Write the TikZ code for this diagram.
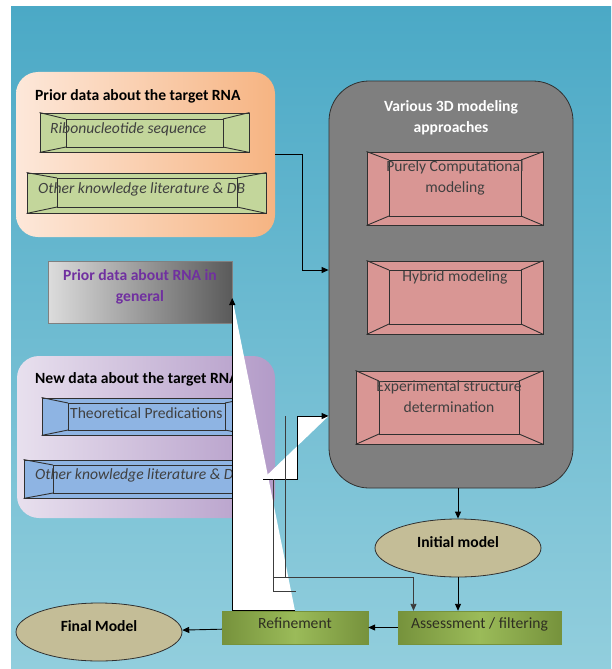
\documentclass[tikz,border=0pt]{standalone}
\usepackage{fontspec}
\setmainfont{Carlito}
\usepackage{tikz}
\usetikzlibrary{arrows.meta,shapes.geometric,positioning}
\definecolor{bgtop}{HTML}{4BA9C6}
\definecolor{bgbot}{HTML}{92CEDD}
\definecolor{peachL}{HTML}{FDE8DA}
\definecolor{peachR}{HTML}{F6B482}
\definecolor{lavL}{HTML}{E8E0EE}
\definecolor{lavR}{HTML}{B39BC8}
\definecolor{greyL}{HTML}{DCDCDC}
\definecolor{greyR}{HTML}{5A5A5A}
\definecolor{bevg}{HTML}{C3D69B}
\definecolor{bevb}{HTML}{8EB4E3}
\definecolor{pinkf}{HTML}{D99694}
\definecolor{edge}{HTML}{303030}
\definecolor{tanf}{HTML}{C4BD97}
\definecolor{stagedark}{HTML}{76923C}
\definecolor{stagelight}{HTML}{9BBB59}
\definecolor{stagetext}{HTML}{2F2F22}
\definecolor{boxtext}{HTML}{404040}
\definecolor{genpurple}{HTML}{7030A0}
\definecolor{appgray}{HTML}{7F7F7F}
\definecolor{wiregray}{HTML}{3C3C3C}

\begin{document}
\begin{tikzpicture}[
  x=1pt,
  y=-1pt,
  every node/.style={font=\fontsize{15.6}{21}\selectfont, inner sep=0pt},
  panel/.style={rectangle, rounded corners=22pt},
  bev/.style={rectangle, draw=edge, line width=0.9pt},
  bevgreen/.style={bev, fill=bevg},
  bevblue/.style={bev, fill=bevb},
  bevpink/.style={bev, fill=pinkf},
  bevline/.style={draw=edge, line width=0.9pt},
  model/.style={ellipse, draw=edge, line width=0.8pt, fill=tanf, text depth=12pt, font=\fontsize{15.6}{21}\selectfont\bfseries},
  stage/.style={rectangle, draw=stagedark, line width=0.4pt, left color=stagedark, right color=stagedark, middle color=stagelight, text=stagetext, text depth=9pt},
  flow/.style={-{Triangle[length=7pt,width=6pt]}, line width=0.9pt},
  wire/.style={draw=wiregray, line width=0.9pt},
  title/.style={anchor=west, font=\fontsize{15.6}{21}\selectfont\bfseries},
  itext/.style={anchor=west, text=boxtext, font=\fontsize{15.6}{21}\selectfont\itshape},
  ctext/.style={align=center, text=boxtext}
]
\path[use as bounding box, fill=white] (0,0) rectangle (611,669);
\fill[top color=bgtop, bottom color=bgbot] (11,7) rectangle (611,669);

% prior data about the target
\node[panel, left color=peachL, right color=peachR, minimum width=259pt, minimum height=165pt] (priorbox) at (145.5,154.5) {};
\node[title] (priortitle) at (35,96) {Prior data about the target RNA};
\node[bevgreen, minimum width=209pt, minimum height=39pt] (seq) at (144.5,132.5) {};
\draw[bevline] (66,119) rectangle (223,147);
\draw[bevline] (seq.north west) -- (66,119) (seq.north east) -- (223,119) (seq.south west) -- (66,147) (seq.south east) -- (223,147);
\node[itext] (seqtxt) at (50,129) {Ribonucleotide sequence};
\node[bevgreen, minimum width=239pt, minimum height=40pt] (litA) at (146.5,193) {};
\draw[bevline] (57,178) rectangle (237,207);
\draw[bevline] (litA.north west) -- (57,178) (litA.north east) -- (237,178) (litA.south west) -- (57,207) (litA.south east) -- (237,207);
\node[itext] (litAtxt) at (38,189) {Other knowledge literature \& DB};

% prior data in general
\node[rectangle, draw=gray, line width=0.5pt, left color=greyL, right color=greyR, minimum width=184pt, minimum height=62pt] (general) at (140,292) {};
\node[align=center, text=genpurple, font=\fontsize{15.6}{21}\selectfont\bfseries] (generaltxt) at (140,287) {Prior data about RNA in\\general};

% new data about the target
\node[panel, left color=lavL, right color=lavR, minimum width=258pt, minimum height=162pt] (newbox) at (146,437) {};
\node[title] (newtitle) at (35,379) {New data about the target RNA};
\node[bevblue, minimum width=209pt, minimum height=37pt] (theo) at (146.5,416.5) {};
\draw[bevline] (68,403) rectangle (225,430);
\draw[bevline] (theo.north west) -- (68,403) (theo.north east) -- (225,403) (theo.south west) -- (68,430) (theo.south east) -- (225,430);
\node[anchor=west, text=boxtext] (theotxt) at (70,413) {Theoretical Predications};
\node[bevblue, minimum width=239pt, minimum height=38pt] (litB) at (143.5,479) {};
\draw[bevline] (53,465) rectangle (234,493);
\draw[bevline] (litB.north west) -- (53,465) (litB.north east) -- (234,465) (litB.south west) -- (53,493) (litB.south east) -- (234,493);
\node[itext] (litBtxt) at (35,475) {Other knowledge literature \& DB};

% modeling approaches
\node[rectangle, rounded corners=40pt, draw=edge, line width=0.8pt, fill=appgray, minimum width=244pt, minimum height=407pt] (approaches) at (451,284.5) {};
\node[align=center, text=white, font=\fontsize{15.6}{21}\selectfont\bfseries] (apptitle) at (451,118) {Various 3D modeling\\approaches};
\node[bevpink, minimum width=176pt, minimum height=73pt] (pure) at (455,188.5) {};
\draw[bevline] (389,160) rectangle (521,216);
\draw[bevline] (pure.north west) -- (389,160) (pure.north east) -- (521,160) (pure.south west) -- (389,216) (pure.south east) -- (521,216);
\node[ctext] (puretxt) at (455,178) {Purely Computational\\modeling};
\node[bevpink, minimum width=176pt, minimum height=73pt] (hybrid) at (455,297.5) {};
\draw[bevline] (389,270) rectangle (521,324);
\draw[bevline] (hybrid.north west) -- (389,270) (hybrid.north east) -- (521,270) (hybrid.south west) -- (389,324) (hybrid.south east) -- (521,324);
\node[ctext] (hybridtxt) at (455,277) {Hybrid modeling};
\node[bevpink, minimum width=187pt, minimum height=73pt] (expt) at (449.5,407.5) {};
\draw[bevline] (379,381) rectangle (519,434);
\draw[bevline] (expt.north west) -- (379,381) (expt.north east) -- (519,381) (expt.south west) -- (379,434) (expt.south east) -- (519,434);
\node[ctext] (expttxt) at (449,397) {Experimental structure\\determination};

% models and stages
\node[model, minimum width=166pt, minimum height=58pt] (init) at (458,548) {Initial model};
\node[stage, minimum width=163pt, minimum height=33pt] (assess) at (479.5,627.5) {Assessment / filtering};
\node[stage, minimum width=146pt, minimum height=33pt] (refine) at (295,627.5) {Refinement};
\node[model, minimum width=166pt, minimum height=58pt] (final) at (99,632) {Final Model};

% connectors
\coordinate (inA) at ([yshift=14.5pt]approaches.west);
\coordinate (inB) at ([yshift=-131.5pt]approaches.west);
\coordinate (inG) at ([yshift=-6pt]general.east);
\coordinate (newout) at (263,479);
\fill[white] (refine.north) -- (inG |- refine.north) -- (inG) -- cycle;
\fill[white] (newout) -- ++(34,0) -- (297,416) -- (inB) -- cycle;
\draw[flow] (priorbox.east) -- ++(27,0) |- (inA);
\draw[flow] (newout) -- ++(34,0) |- (inB);
\draw[flow] (refine.north) -| (inG);
\coordinate (w1) at (285,416);
\coordinate (w2) at (285,577);
\draw[wire] (w1) -- (w2);
\coordinate (w3) at (273,479);
\coordinate (w4) at (296,591);
\draw[wire] (w3) |- (w4);
\coordinate (w5) at (273,577);
\draw[flow, wiregray] (w5) -| ([xshift=-66pt]assess.north);
\draw[flow] (init.north |- approaches.south) -- (init.north);
\draw[flow] (init.south) -- (init.south |- assess.north);
\draw[flow] (assess) -- (refine);
\draw[flow] (refine) -- (final);
\end{tikzpicture}
\end{document}
